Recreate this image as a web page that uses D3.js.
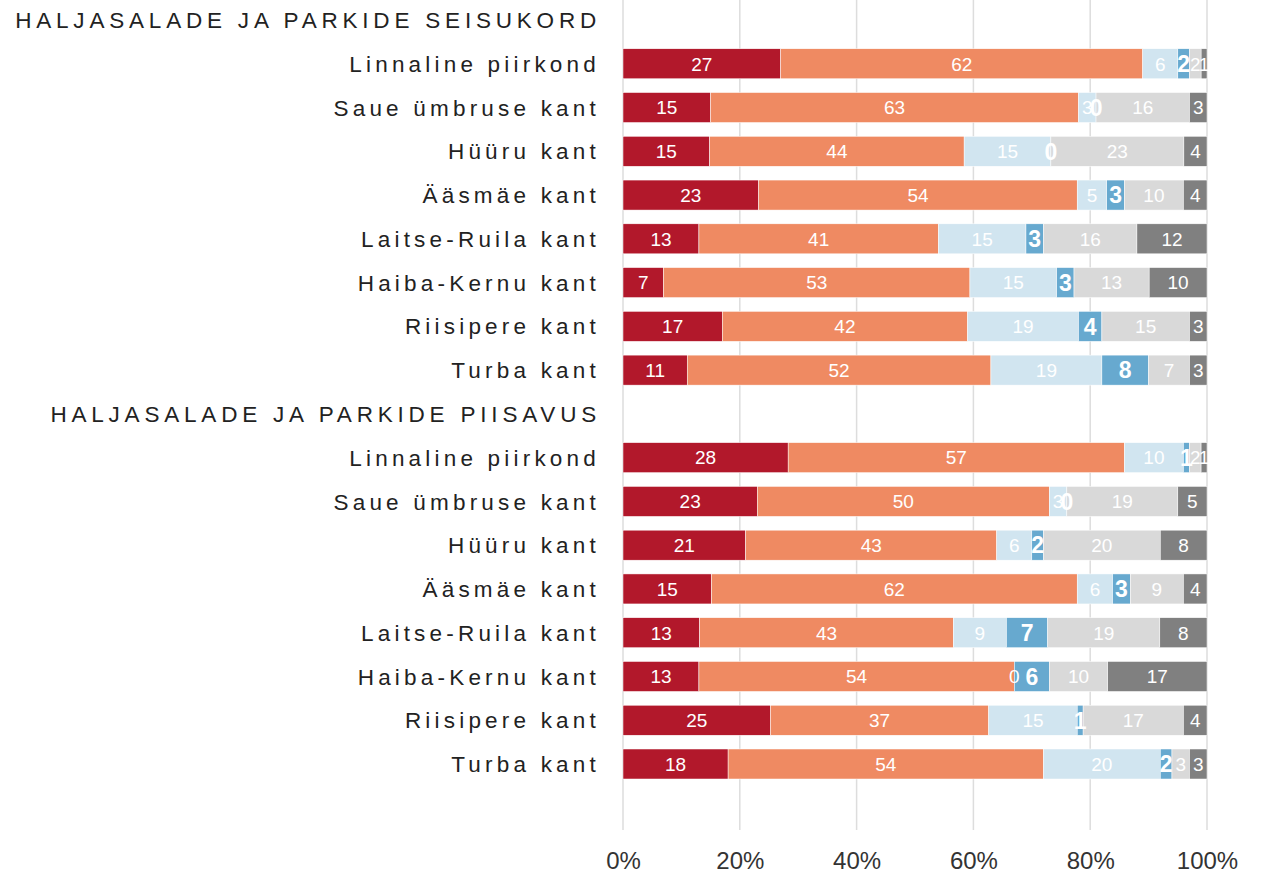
<!DOCTYPE html>
<html>
<head>
<meta charset="utf-8">
<script src="https://cdn.jsdelivr.net/npm/d3@7"></script>
<style>
  body { margin: 0; background: #fff; }
  svg { display: block; font-family: "Liberation Sans", Arial, Helvetica, sans-serif; }
</style>
</head>
<body>
<script>
// groups and categories
const groups = ['HALJASALADE JA PARKIDE SEISUKORD', 'HALJASALADE JA PARKIDE PIISAVUS'];
const regions = ['Linnaline piirkond', 'Saue ümbruse kant', 'Hüüru kant', 'Ääsmäe kant',
                 'Laitse-Ruila kant', 'Haiba-Kernu kant', 'Riisipere kant', 'Turba kant'];

// answer shares (%) per region, 6 answer classes
const seisukord = [
  [27, 62, 6, 2, 2, 1],
  [15, 63, 3, 0, 16, 3],
  [15, 44, 15, 0, 23, 4],
  [23, 54, 5, 3, 10, 4],
  [13, 41, 15, 3, 16, 12],
  [7, 53, 15, 3, 13, 10],
  [17, 42, 19, 4, 15, 3],
  [11, 52, 19, 8, 7, 3]
];
const piisavus = [
  [28, 57, 10, 1, 2, 1],
  [23, 50, 3, 0, 19, 5],
  [21, 43, 6, 2, 20, 8],
  [15, 62, 6, 3, 9, 4],
  [13, 43, 9, 7, 19, 8],
  [13, 54, 0, 6, 10, 17],
  [25, 37, 15, 1, 17, 4],
  [18, 54, 20, 2, 3, 3]
];
const colors = ['#b2182b', '#ef8a62', '#d1e5f0', '#67a9cf', '#d9d9d9', '#808080'];
const ticks = [0, 20, 40, 60, 80, 100];

const width = 1268, height = 875;
const svg = d3.select('body').append('svg').attr('width', width).attr('height', height);

// build rows: header rows + data rows
let rows = [];
[seisukord, piisavus].forEach(function(data, gi) {
  rows.push({key: 'h' + gi, header: true, label: groups[gi]});
  data.forEach(function(vals, ri) {
    rows.push({key: 'r' + gi + '_' + ri, header: false, label: regions[ri], vals: vals});
  });
});

const x = d3.scaleLinear().domain([0, 100]).range([623, 1207]);
const y = d3.scalePoint().domain(rows.map(d => d.key)).range([20, 764]);
const barH = 30;

// grid
svg.append('g').selectAll('line').data(ticks).enter().append('line')
  .attr('x1', d => x(d)).attr('x2', d => x(d))
  .attr('y1', 0).attr('y2', 830)
  .attr('stroke', '#dddddd').attr('stroke-width', 1.5);

// axis labels
const axis = svg.append('g').attr('transform', 'translate(0,830)')
  .call(d3.axisBottom(x).tickValues(ticks).tickFormat(d => d + '%').tickSize(0).tickPadding(22));
axis.select('.domain').remove();
axis.selectAll('text').attr('font-size', 24).attr('fill', '#333')
  .attr('font-family', '"Liberation Sans", Arial, sans-serif');

// row labels (headers are spaced a bit wider)
svg.append('g').selectAll('text').data(rows).enter().append('text')
  .attr('x', d => d.header ? 601 : 600).attr('y', d => y(d.key)).attr('dy', '0.36em')
  .attr('text-anchor', 'end')
  .attr('font-size', 22.5).attr('letter-spacing', d => d.header ? 4.8 : 4.2)
  .attr('fill', '#222')
  .text(d => d.label);

// bars
const dataRows = rows.filter(d => !d.header);
const segs = [];
dataRows.forEach(function(r) {
  const total = d3.sum(r.vals);
  let acc = 0;
  r.vals.forEach(function(v, i) {
    const x0 = acc / total * 100;
    acc += v;
    segs.push({key: r.key, i: i, v: v, x0: x0, x1: acc / total * 100});
  });
});

const bars = svg.append('g');
bars.selectAll('rect').data(segs).enter().append('rect')
  .attr('x', d => x(d.x0)).attr('width', d => x(d.x1) - x(d.x0))
  .attr('y', d => y(d.key) - barH / 2).attr('height', barH)
  .attr('fill', d => colors[d.i])
  .attr('stroke', '#fff').attr('stroke-width', 0.5);

bars.selectAll('text').data(segs).enter().append('text')
  .attr('x', d => (x(d.x0) + x(d.x1)) / 2)
  .attr('y', d => y(d.key)).attr('dy', '0.36em')
  .attr('text-anchor', 'middle')
  .attr('fill', '#fff')
  .attr('font-size', d => d.i === 3 ? 23 : 19)
  .attr('font-weight', d => d.i === 3 ? 'bold' : 'normal')
  .text(d => d.v);
</script>
</body>
</html>
